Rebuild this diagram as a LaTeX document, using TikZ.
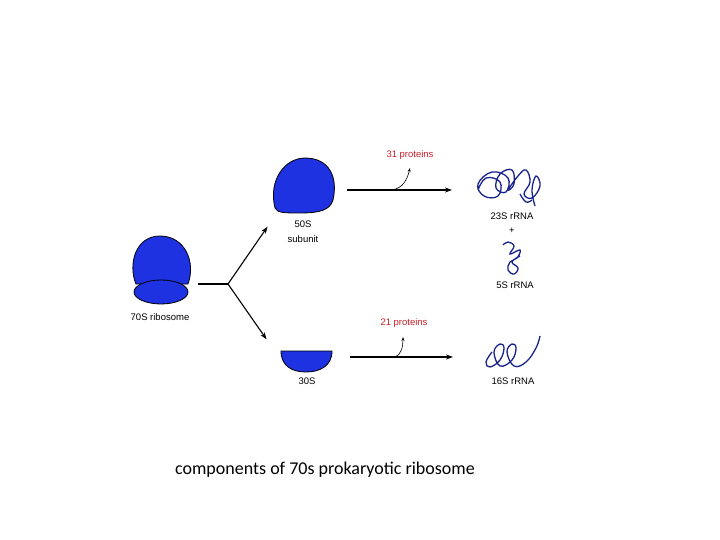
\documentclass[tikz,border=0pt]{standalone}
\usepackage{fontspec}
\setmainfont{Liberation Sans}
\newfontfamily\capfont{Carlito}
\usetikzlibrary{arrows.meta}
\definecolor{rib}{RGB}{30,50,225}
\definecolor{rna}{RGB}{25,35,140}
\definecolor{prot}{RGB}{200,30,40}
\begin{document}
\begin{tikzpicture}[x=1pt,y=-1pt,
  blob/.style={fill=rib,draw=black,line width=0.8pt},
  lbl/.style={font=\fontsize{9.5}{10}\selectfont,inner sep=0pt},
  plbl/.style={lbl,text=prot},
  arr/.style={line width=1.1pt,-{Stealth[length=7pt,width=5pt]}},
  side/.style={line width=0.6pt,-{Stealth[length=4pt,width=3pt]}},
  squig/.style={draw=rna,line width=1.3pt}]
\useasboundingbox (0,0) rectangle (720,540);
% 70S
\draw[blob] (136,284) .. controls (128,265) and (135,236) .. (160,236) .. controls (185,236) and (196,262) .. (188,284) -- cycle;
\draw[blob] (161,292) ellipse (27 and 12);
\node[lbl] (t70) at (160,317) {70S ribosome};
% branch
\coordinate (br0) at (198,284);
\coordinate (br) at (228,284);
\node[inner sep=0pt] (s50) at (268,226) {};
\node[inner sep=0pt] (s30) at (267,340) {};
\draw[line width=1.1pt] (br0) -- (br);
\draw[arr] (br) -- (s50);
\draw[arr] (br) -- (s30);
% 50S
\draw[blob] (275,208) .. controls (268,180) and (285,158) .. (305,158) .. controls (330,158) and (338,178) .. (333,200) .. controls (330,210) and (320,213) .. (300,213) .. controls (285,213) and (277,213) .. (275,208) -- cycle;
\node[lbl] (t50) at (303,224) {50S};
\node[lbl] (t50b) at (303,239) {subunit};
% 30S
\draw[blob] (281,351) -- (332,351) .. controls (332,366) and (320,372) .. (306,372) .. controls (292,372) and (281,366) .. (281,351) -- cycle;
\node[lbl] (t30) at (307,381) {30S};
% top arrow
\coordinate (a1) at (347,190);
\coordinate (a2) at (452,190);
\coordinate (c1) at (392,190);
\coordinate (c1e) at (410,168);
\draw[arr] (a1) -- (a2);
\draw[side] (c1) .. controls (403,188) and (407,180) .. (c1e);
\node[plbl] (p31) at (410,155) {31 proteins};
% bottom arrow
\coordinate (b1) at (350,357);
\coordinate (b2) at (453,357);
\coordinate (d1) at (395,357);
\coordinate (d1e) at (403,337);
\draw[arr] (b1) -- (b2);
\draw[side] (d1) .. controls (401,355) and (403,347) .. (d1e);
\node[plbl] (p21) at (404,323) {21 proteins};
% 23S squiggle
\draw[squig] plot[smooth,tension=0.7] coordinates {(478,190) (486,178) (500,182) (498,196) (484,196) (478,184) (492,172) (508,178) (506,192) (496,188) (500,174) (512,170) (514,184) (508,190) (518,176) (526,170) (530,182) (524,194) (532,198) (540,186) (536,176) (532,190) (535,206)};
\draw[squig] plot[smooth,tension=0.7] coordinates {(520,194) (526,202) (532,200)};
\node[lbl] (t23) at (512,216) {23S rRNA};
\node[lbl] (plus) at (512,231) {+};
% 5S squiggle
\draw[squig] plot[smooth,tension=0.7] coordinates {(503,245) (508,242) (514,246) (510,254) (520,250) (517,258) (510,262) (508,270) (514,274) (518,268) (512,262) (520,256)};
\node[lbl] (t5) at (515,285) {5S rRNA};
% 16S squiggle
\draw[squig] plot[smooth,tension=0.7] coordinates {(492,352) (486,362) (490,367) (500,360) (504,348) (500,344) (494,352) (500,366) (512,360) (516,348) (512,344) (507,352) (514,366) (526,362) (536,348) (540,336)};
\node[lbl] (t16) at (513,381) {16S rRNA};
% caption
\node[inner sep=0pt,font=\capfont\fontsize{18}{20}\selectfont] (cap) at (325,470) {components of 70s prokaryotic ribosome};
\end{tikzpicture}
\end{document}
